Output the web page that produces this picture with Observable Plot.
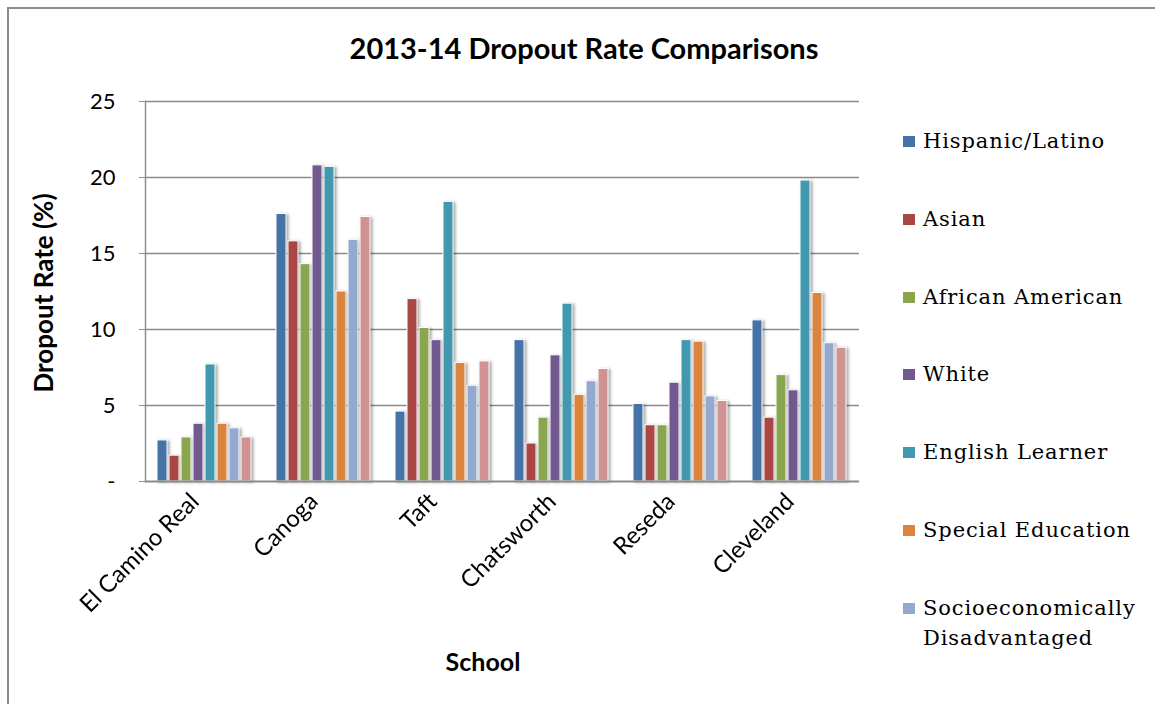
<!DOCTYPE html>
<html>
<head>
<meta charset="utf-8">
<script src="https://cdn.jsdelivr.net/npm/d3@7"></script>
<script src="https://cdn.jsdelivr.net/npm/@observablehq/plot@0.6"></script>
<style>
  html, body { margin: 0; padding: 0; background: #fff; }
  #wrap { position: relative; width: 1155px; height: 704px; overflow: hidden; background: #fff; }
  #border { position: absolute; left: 7px; top: 7px; width: 1200px; height: 760px; border: 2px solid #8c8c8c; box-sizing: border-box; }
  #chart { position: absolute; left: 0; top: 0; }
  .title { position: absolute; left: 0; width: 1168px; top: 30px; text-align: center; font: bold 29px Lato, sans-serif; color: #000; }
  .ylab { position: absolute; left: 43px; top: 293px; transform: translate(-50%, -50%) rotate(-90deg); font: bold 26px Lato, sans-serif; white-space: nowrap; color: #000; }
  .xlab { position: absolute; left: 483px; top: 661px; transform: translate(-50%, -50%); font: bold 25px Lato, sans-serif; color: #000; }
  .leg { position: absolute; left: 903px; font: 21px "DejaVu Serif", serif; letter-spacing: 0.9px; color: #000; line-height: 30px; }
  .leg .sw { position: absolute; left: 0; top: 10px; width: 12px; height: 11px; }
  .leg .tx { position: absolute; left: 20px; top: 0; white-space: nowrap; }
</style>
</head>
<body>
<div id="wrap">
  <div id="border"></div>
  <div id="chart"></div>
  <div class="title">2013-14 Dropout Rate Comparisons</div>
  <div class="ylab">Dropout Rate (%)</div>
  <div class="xlab">School</div>
</div>
<script>
const schools = ["El Camino Real", "Canoga", "Taft", "Chatsworth", "Reseda", "Cleveland"];
const groups = ["Hispanic/Latino", "Asian", "African American", "White", "English Learner", "Special Education", "Socioeconomically Disadvantaged", "Total"];
const legendGroups = groups.slice(0, 7); // 8th entry is cut off in the original
const colors = ["#4572A7", "#AA4643", "#89A54E", "#71588F", "#4198AF", "#DB843D", "#93A9CF", "#D19392"];

const hispanic      = [2.7, 17.6, 4.6, 9.3, 5.1, 10.6];
const asian         = [1.7, 15.8, 12.0, 2.5, 3.7, 4.2];
const africanAm     = [2.9, 14.3, 10.1, 4.2, 3.7, 7.0];
const white         = [3.8, 20.8, 9.3, 8.3, 6.5, 6.0];
const englishLearn  = [7.7, 20.7, 18.4, 11.7, 9.3, 19.8];
const specialEd     = [3.8, 12.5, 7.8, 5.7, 9.2, 12.4];
const socioEcon     = [3.5, 15.9, 6.3, 6.6, 5.6, 9.1];
const total         = [2.9, 17.4, 7.9, 7.4, 5.3, 8.8];
const yTicks = [0, 5, 10, 15, 20, 25];

const series = [hispanic, asian, africanAm, white, englishLearn, specialEd, socioEcon, total];
const data = schools.flatMap((s, i) => groups.map((g, j) => ({school: s, group: g, value: series[j][i]})));

const plot = Plot.plot({
  width: 1155,
  height: 704,
  marginLeft: 143,
  marginRight: 295,
  marginTop: 101,
  marginBottom: 223,
  style: {fontFamily: "Lato, sans-serif", fontSize: "18px", color: "#000", background: "transparent"},
  fx: {domain: schools, padding: 0, label: null},
  x: {domain: groups, paddingInner: 0.14, paddingOuter: 0.85, axis: null},
  y: {domain: [0, 25], label: null},
  color: {domain: groups, range: colors},
  marks: [
    Plot.gridY(yTicks.slice(1), {stroke: "#8a8a8a", strokeOpacity: 1, strokeWidth: 1.6}),
    Plot.barY(data, {fx: "school", x: "group", y: "value", fill: "group", stroke: "white", strokeWidth: 1}),
    Plot.ruleY([0], {stroke: "#8a8a8a", strokeWidth: 2}),
    Plot.frame({anchor: "left", facetAnchor: "left", stroke: "#8e8e8e", strokeWidth: 1.5}),
    Plot.axisY({ticks: yTicks, tickFormat: d => d === 0 ? "-" : String(d), tickSize: 6, tickPadding: 24, stroke: "#8e8e8e", label: null, fontSize: 22}),
    Plot.axisFx({anchor: "bottom", tickRotate: -45, tickSize: 0, tickPadding: 16, label: null, fontSize: 24, dx: -10})
  ]
});

const bars = plot.querySelectorAll('g[aria-label="bar"]');
bars.forEach(g => g.style.filter = "drop-shadow(2px 1px 1.5px rgba(0,0,0,0.35))");
document.getElementById("chart").appendChild(plot);

const wrap = document.getElementById("wrap");
legendGroups.forEach((g, i) => {
  const item = document.createElement("div");
  item.className = "leg";
  item.style.top = (126 + i * 77.8) + "px";
  const sw = document.createElement("div");
  sw.className = "sw";
  sw.style.background = colors[i];
  const tx = document.createElement("div");
  tx.className = "tx";
  tx.innerHTML = g === "Socioeconomically Disadvantaged" ? "Socioeconomically<br>Disadvantaged" : g;
  item.appendChild(sw);
  item.appendChild(tx);
  wrap.appendChild(item);
});
</script>
</body>
</html>
